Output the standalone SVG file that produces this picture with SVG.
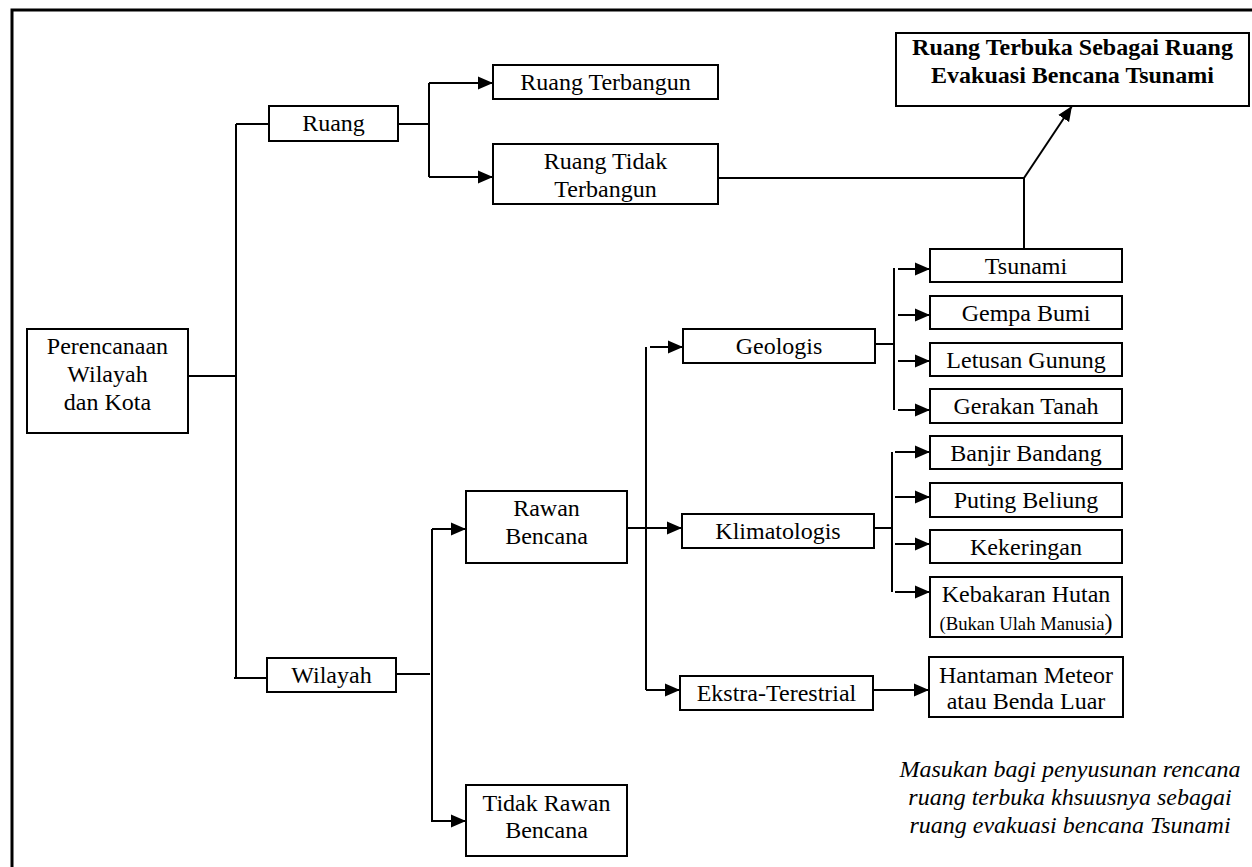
<svg xmlns="http://www.w3.org/2000/svg" width="1252" height="867" viewBox="0 0 1252 867">
<style>
.box{fill:#fff;stroke:#000;stroke-width:2}
.t{font-family:"Liberation Serif","Times New Roman",serif;font-size:24px;fill:#000;text-anchor:middle}
.b{font-weight:bold}
.i{font-style:italic}
.s{font-size:18.7px}
.c{fill:none;stroke:#000;stroke-width:2}
</style>
<defs>
<marker id="ah" markerUnits="userSpaceOnUse" markerWidth="15" markerHeight="14" refX="15" refY="7" orient="auto">
<path d="M0,0.5 L15,7 L0,13.5 z" fill="#000"/>
</marker>
</defs>
<rect x="0" y="0" width="1252" height="867" fill="#fff"/>
<path d="M12,867 V10 H1252" fill="none" stroke="#000" stroke-width="3"/>

<g id="connectors">
<path class="c" d="M188,376 H236"/>
<path class="c" d="M236,124 V678"/>
<path class="c" d="M236,124 H269"/>
<path class="c" d="M234,678 H267"/>
<path class="c" d="M398,124 H429"/>
<path class="c" d="M429,83 V177"/>
<path class="c" d="M429,83 H493" marker-end="url(#ah)"/>
<path class="c" d="M429,177 H493" marker-end="url(#ah)"/>
<path class="c" d="M718,178 H1024 V249"/>
<path class="c" d="M1024,178 L1072,106" marker-end="url(#ah)"/>
<path class="c" d="M396,674 H430"/>
<path class="c" d="M432,529 V821"/>
<path class="c" d="M432,529 H466" marker-end="url(#ah)"/>
<path class="c" d="M431,821 H466" marker-end="url(#ah)"/>
<path class="c" d="M627,528 H682" marker-end="url(#ah)"/>
<path class="c" d="M646,347 V690"/>
<path class="c" d="M650,347 H683" marker-end="url(#ah)"/>
<path class="c" d="M646,690 H680" marker-end="url(#ah)"/>
<path class="c" d="M875,344 H894"/>
<path class="c" d="M894,268 V410"/>
<path class="c" d="M898,269 H930" marker-end="url(#ah)"/>
<path class="c" d="M898,315 H930" marker-end="url(#ah)"/>
<path class="c" d="M898,361 H930" marker-end="url(#ah)"/>
<path class="c" d="M898,410 H930" marker-end="url(#ah)"/>
<path class="c" d="M874,528 H892"/>
<path class="c" d="M892,452 V592"/>
<path class="c" d="M895,452 H930" marker-end="url(#ah)"/>
<path class="c" d="M895,497 H930" marker-end="url(#ah)"/>
<path class="c" d="M895,544 H930" marker-end="url(#ah)"/>
<path class="c" d="M895,592 H930" marker-end="url(#ah)"/>
<path class="c" d="M873,690 H929" marker-end="url(#ah)"/>
</g>

<g id="perencanaan">
<rect class="box" x="27" y="329" width="161" height="104"/>
<text class="t" x="107.5" y="354">Perencanaan</text>
<text class="t" x="107.5" y="382">Wilayah</text>
<text class="t" x="107.5" y="410">dan Kota</text>
</g>
<g id="ruang">
<rect class="box" x="269" y="106" width="129" height="35"/>
<text class="t" x="333.5" y="131">Ruang</text>
</g>
<g id="wilayah">
<rect class="box" x="267" y="658" width="129" height="34"/>
<text class="t" x="331.5" y="683">Wilayah</text>
</g>
<g id="ruang-terbangun">
<rect class="box" x="493" y="65" width="225" height="34"/>
<text class="t" x="605.5" y="90">Ruang Terbangun</text>
</g>
<g id="ruang-tidak-terbangun">
<rect class="box" x="493" y="144" width="225" height="60"/>
<text class="t" x="605.5" y="169">Ruang Tidak</text>
<text class="t" x="605.5" y="197">Terbangun</text>
</g>
<g id="evakuasi">
<rect class="box" x="896" y="33" width="353" height="73"/>
<text class="t b" x="1072.5" y="55">Ruang Terbuka Sebagai Ruang</text>
<text class="t b" x="1072.5" y="83">Evakuasi Bencana Tsunami</text>
</g>
<g id="rawan-bencana">
<rect class="box" x="466" y="491" width="161" height="72"/>
<text class="t" x="546.5" y="516">Rawan</text>
<text class="t" x="546.5" y="544">Bencana</text>
</g>
<g id="tidak-rawan-bencana">
<rect class="box" x="466" y="785" width="161" height="71"/>
<text class="t" x="546.5" y="811">Tidak Rawan</text>
<text class="t" x="546.5" y="838">Bencana</text>
</g>
<g id="geologis">
<rect class="box" x="683" y="329" width="192" height="34"/>
<text class="t" x="779" y="354">Geologis</text>
</g>
<g id="klimatologis">
<rect class="box" x="682" y="514" width="192" height="34"/>
<text class="t" x="778" y="539">Klimatologis</text>
</g>
<g id="ekstra-terestrial">
<rect class="box" x="680" y="676" width="193" height="34"/>
<text class="t" x="776.5" y="701">Ekstra-Terestrial</text>
</g>
<g id="tsunami">
<rect class="box" x="930" y="249" width="192" height="33"/>
<text class="t" x="1026" y="274">Tsunami</text>
</g>
<g id="gempa-bumi">
<rect class="box" x="930" y="296" width="192" height="33"/>
<text class="t" x="1026" y="321">Gempa Bumi</text>
</g>
<g id="letusan-gunung">
<rect class="box" x="930" y="343" width="192" height="33"/>
<text class="t" x="1026" y="368">Letusan Gunung</text>
</g>
<g id="gerakan-tanah">
<rect class="box" x="930" y="389" width="192" height="34"/>
<text class="t" x="1026" y="414">Gerakan Tanah</text>
</g>
<g id="banjir-bandang">
<rect class="box" x="930" y="436" width="192" height="33"/>
<text class="t" x="1026" y="461">Banjir Bandang</text>
</g>
<g id="puting-beliung">
<rect class="box" x="930" y="483" width="192" height="34"/>
<text class="t" x="1026" y="508">Puting Beliung</text>
</g>
<g id="kekeringan">
<rect class="box" x="930" y="530" width="192" height="33"/>
<text class="t" x="1026" y="555">Kekeringan</text>
</g>
<g id="kebakaran-hutan">
<rect class="box" x="930" y="577" width="192" height="60"/>
<text class="t" x="1026" y="602">Kebakaran Hutan</text>
<text class="t" x="1026" y="630"><tspan class="s">(Bukan Ulah Manusia</tspan>)</text>
</g>
<g id="hantaman-meteor">
<rect class="box" x="929" y="657" width="194" height="60"/>
<text class="t" x="1026" y="683">Hantaman Meteor</text>
<text class="t" x="1026" y="709">atau Benda Luar</text>
</g>
<g id="catatan">
<text class="t i" x="1070" y="777">Masukan bagi penyusunan rencana</text>
<text class="t i" x="1070" y="805">ruang terbuka khsuusnya sebagai</text>
<text class="t i" x="1070" y="833">ruang evakuasi bencana Tsunami</text>
</g>
</svg>
